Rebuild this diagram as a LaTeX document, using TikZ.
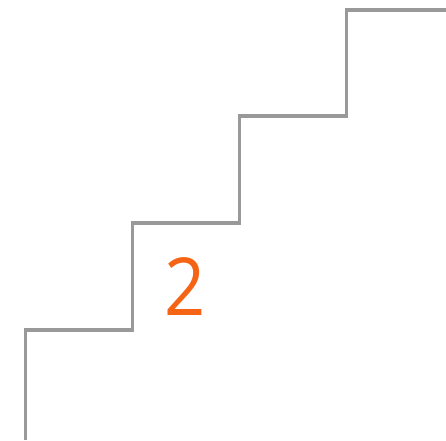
\documentclass[tikz,border=0pt]{standalone}
\usepackage{fontspec}
\setmainfont{Open Sans}
\usepackage{xcolor}
\usepackage{graphicx}
\definecolor{stairgray}{RGB}{153,153,153}
\definecolor{steporange}{RGB}{245,100,20}

\begin{document}
\begin{tikzpicture}[x=1pt,y=1pt,
  stairline/.style={line width=3.2pt,stairgray},
  stepnum/.style={steporange,inner sep=0pt,anchor=base,font=\fontsize{80}{80}\selectfont}]
\useasboundingbox (0,0) rectangle (446,440);
% --- staircase ---
\draw[stairline] (25.5,0) |- (132.5,110) |- (239.5,217) |- (346.5,324) |- (446,430);
% --- step label ---
\node[stepnum] (num) at (185,125) {\scalebox{0.9}[1]{2}};
\end{tikzpicture}
\end{document}
